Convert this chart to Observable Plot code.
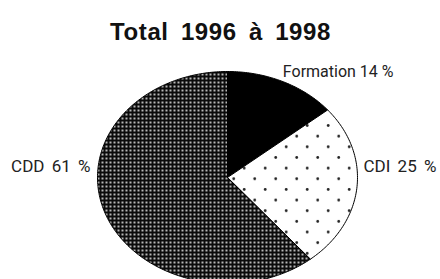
<!DOCTYPE html>
<html>
<head>
<meta charset="utf-8">
<script src="https://cdn.jsdelivr.net/npm/d3@7"></script>
<script src="https://cdn.jsdelivr.net/npm/@observablehq/plot@0.6"></script>
<style>
  html, body { margin: 0; padding: 0; background: #fff; }
</style>
</head>
<body>
<div id="chart"></div>
<script>
const title = "Total 1996 à 1998";
const categories = ["Formation", "CDI", "CDD"];
const values = [14, 25, 61];
const labels = ["Formation 14 %", "CDI 25 %", "CDD 61 %"];

const fills = {Formation: "black", CDI: "url(#pat-cdi)", CDD: "url(#pat-cdd)"};

const arcs = d3.pie().sort(null).value(d => d.value)(
  categories.map((c, i) => ({category: c, value: values[i], label: labels[i]}))
);

// slice outline points in unit-circle coordinates (x = sin, y = cos)
function slicePoints(a) {
  const pts = [{x: 0, y: 0}];
  const n = Math.max(2, Math.ceil((a.endAngle - a.startAngle) / (Math.PI / 180)));
  for (let k = 0; k <= n; k++) {
    const t = a.startAngle + (a.endAngle - a.startAngle) * k / n;
    pts.push({x: Math.sin(t), y: Math.cos(t)});
  }
  pts.push({x: 0, y: 0});
  return pts;
}
function midPoint(a) {
  const t = (a.startAngle + a.endAngle) / 2;
  return {x: Math.sin(t), y: Math.cos(t), label: a.data.label};
}

const sliceMarks = arcs.map(a =>
  Plot.line(slicePoints(a), {x: "x", y: "y", fill: fills[a.data.category], stroke: "black", strokeWidth: 1, curve: "linear"})
);

const labelFont = {fontFamily: "Roboto, 'Liberation Sans', sans-serif", fontSize: 17, fill: "#222"};
const labelMarks = [
  Plot.text([midPoint(arcs[0])], {x: "x", y: "y", text: "label", textAnchor: "start", dx: 0, dy: -9.5, ...labelFont, fontSize: 16}),
  Plot.text([midPoint(arcs[1])], {x: "x", y: "y", text: "label", textAnchor: "start", dx: 6.6, dy: -20.5, ...labelFont}),
  Plot.text([midPoint(arcs[2])], {x: "x", y: "y", text: "label", textAnchor: "end", dx: -14.7, dy: -46.4, ...labelFont})
];

const svg = Plot.plot({
  width: 440,
  height: 279,
  margin: 0,
  x: {domain: [-1, 1], range: [97, 357], axis: null},
  y: {domain: [-1, 1], range: [283, 71], axis: null},
  marks: [
    ...sliceMarks,
    ...labelMarks,
    Plot.text([title], {frameAnchor: "top", dy: 22, fontFamily: "'Liberation Sans', Arial, sans-serif", fontWeight: "bold", fontSize: 24, fill: "#111"})
  ]
});

const defs = d3.select(svg).insert("defs", ":first-child");
const pc = defs.append("pattern").attr("id", "pat-cdd").attr("patternUnits", "userSpaceOnUse")
  .attr("x", 0).attr("y", 0).attr("width", 4).attr("height", 4);
pc.append("rect").attr("width", 4).attr("height", 4).attr("fill", "#0a0a0a");
pc.append("circle").attr("cx", 2).attr("cy", 2).attr("r", 1.1).attr("fill", "#e0e0e0");

const pi = defs.append("pattern").attr("id", "pat-cdi").attr("patternUnits", "userSpaceOnUse")
  .attr("x", 306.7 - 5.25).attr("y", 125 - 5.3).attr("width", 21).attr("height", 21.3);
pi.append("rect").attr("width", 21).attr("height", 21.3).attr("fill", "white");
pi.append("circle").attr("cx", 5.25).attr("cy", 5.3).attr("r", 1.4).attr("fill", "#222");
pi.append("circle").attr("cx", 15.75).attr("cy", 15.95).attr("r", 1.4).attr("fill", "#222");

d3.select(svg).selectAll("text").filter(function() { return this.textContent === title; })
  .style("word-spacing", "5px").style("letter-spacing", "0.6px");
d3.select(svg).selectAll("text").filter(function() { return this.textContent === labels[1] || this.textContent === labels[2]; })
  .style("word-spacing", "3px");

document.getElementById("chart").appendChild(svg);
</script>
</body>
</html>
